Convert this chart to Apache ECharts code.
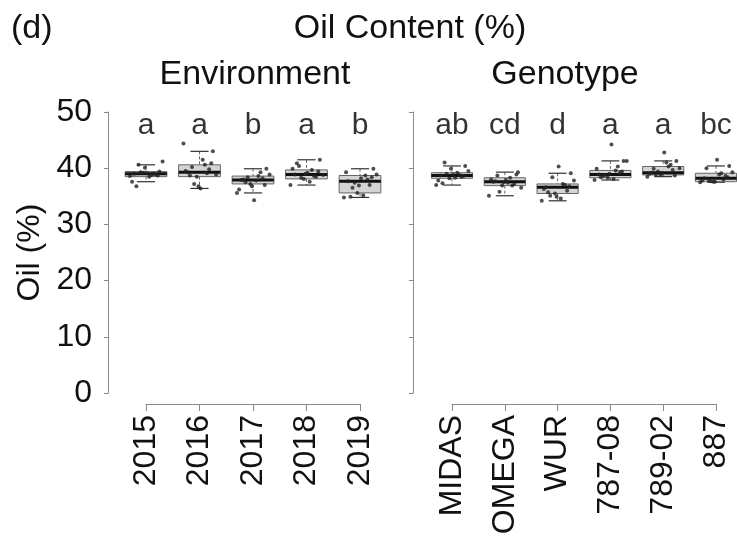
<!DOCTYPE html>
<html>
<head>
<meta charset="utf-8">
<script src="https://cdn.jsdelivr.net/npm/echarts@6/dist/echarts.min.js"></script>
<style>
html,body{margin:0;padding:0;background:#fff;}
#chart{width:737px;height:542px;}
</style>
</head>
<body>
<div id="chart"></div>
<script>
// ---- Data ----
const envCategories = ['2015', '2016', '2017', '2018', '2019'];
const genoCategories = ['MIDAS', 'OMEGA', 'WUR', '787-08', '789-02', '887'];
const yTicks = [0, 10, 20, 30, 40, 50];

// box statistics: lower whisker, Q1, median, Q3, upper whisker
const envLow  = [37.6, 36.4, 35.6, 37.0, 34.8];
const envQ1   = [38.5, 38.5, 37.2, 38.1, 35.6];
const envMed  = [39.0, 39.3, 37.9, 38.9, 37.7];
const envQ3   = [39.4, 40.6, 38.6, 39.7, 38.7];
const envHigh = [40.6, 43.0, 39.9, 41.5, 39.9];

const genoLow  = [37.0, 35.1, 34.2, 37.9, 38.5, 37.5];
const genoQ1   = [38.2, 36.9, 35.5, 38.3, 38.8, 37.6];
const genoMed  = [38.7, 37.6, 36.6, 38.9, 39.2, 38.2];
const genoQ3   = [39.2, 38.3, 37.2, 39.6, 40.3, 39.1];
const genoHigh = [40.4, 39.3, 39.1, 41.3, 41.3, 40.4];

// individual observations per group
const env2015 = [39.0, 38.8, 39.2, 39.4, 38.6, 39.1, 38.9, 40.6, 41.2, 37.6, 38.5, 39.3, 38.7, 36.8, 39.0, 40.1];
const env2016 = [39.3, 40.6, 38.5, 43.0, 44.4, 36.4, 39.8, 40.2, 38.9, 39.5, 41.5, 37.2, 40.9, 38.7, 39.1, 36.8];
const env2017 = [37.9, 38.6, 37.2, 39.9, 35.6, 34.3, 38.2, 37.5, 38.9, 36.2, 37.8, 38.4, 37.0, 38.0, 39.3, 36.8];
const env2018 = [38.9, 39.7, 38.1, 41.5, 37.0, 39.2, 38.5, 40.4, 38.8, 39.9, 37.6, 38.3, 39.4, 40.9, 38.6, 39.0];
const env2019 = [37.7, 38.7, 35.6, 39.9, 34.8, 38.2, 37.0, 36.5, 38.9, 39.3, 35.2, 37.4, 38.4, 34.9, 38.0, 36.9];
const genoMIDAS = [38.7, 39.2, 38.2, 40.4, 37.0, 38.9, 38.5, 41.0, 39.5, 37.8, 38.3, 39.0, 38.6, 37.3, 38.8, 39.9];
const genoOMEGA = [37.6, 38.3, 36.9, 39.3, 35.1, 37.9, 37.2, 38.7, 36.5, 38.0, 37.4, 35.8, 38.9, 37.7, 36.9, 37.5];
const genoWUR   = [36.6, 37.2, 35.5, 39.1, 34.2, 40.3, 36.0, 35.1, 37.8, 36.3, 34.6, 38.4, 36.8, 35.7, 37.0, 34.9];
const geno78708 = [38.9, 39.6, 38.3, 41.3, 37.9, 44.2, 39.2, 38.6, 41.3, 39.9, 38.1, 38.8, 39.4, 38.4, 40.3, 39.0];
const geno78902 = [39.2, 40.3, 38.8, 41.3, 38.5, 42.8, 39.7, 38.9, 40.0, 39.0, 41.0, 39.4, 38.7, 39.9, 40.6, 39.1];
const geno887   = [38.2, 39.1, 37.6, 40.4, 37.5, 41.5, 38.6, 37.9, 39.3, 37.8, 38.9, 37.7, 38.4, 40.0, 38.0, 37.6];

const envLetters  = ['a', 'a', 'b', 'a', 'b'];
const genoLetters = ['ab', 'cd', 'd', 'a', 'a', 'bc'];

// horizontal jitter (fraction of a category step) used for the points
const jitterOffsets = [-0.22, 0.10, -0.05, 0.25, -0.30, 0.02, 0.18, -0.14, 0.31, -0.26, 0.06, -0.10, 0.22, -0.18, 0.14, -0.02];
const letterLevel = 47.6;

// ---- Build ----
const FONT = "'Liberation Sans', Arial, sans-serif";
const envPoints = [env2015, env2016, env2017, env2018, env2019];
const genoPoints = [genoMIDAS, genoOMEGA, genoWUR, geno78708, geno78902, geno887];

function boxData(lo, q1, md, q3, hi) {
  return lo.map((v, i) => [i, lo[i], q1[i], md[i], q3[i], hi[i]]);
}
function pointData(groups) {
  const out = [];
  groups.forEach((g, i) => g.forEach((v, k) => out.push([i + jitterOffsets[k % jitterOffsets.length], v])));
  return out;
}
function letterData(letters) {
  return letters.map((l, i) => ({ value: [i, letterLevel], name: l }));
}

function renderBox(params, api) {
  const x = api.value(0);
  const lo = api.coord([x, api.value(1)]);
  const q1 = api.coord([x, api.value(2)]);
  const md = api.coord([x, api.value(3)]);
  const q3 = api.coord([x, api.value(4)]);
  const hi = api.coord([x, api.value(5)]);
  const unit = api.size([1, 0])[0];
  const hw = unit * 0.39;
  const sw = unit * 0.17;
  const cx = md[0];
  return {
    type: 'group',
    children: [
      { type: 'line', shape: { x1: cx, y1: hi[1], x2: cx, y2: q3[1] }, style: { stroke: '#666', lineWidth: 1, lineDash: [3, 2] } },
      { type: 'line', shape: { x1: cx, y1: q1[1], x2: cx, y2: lo[1] }, style: { stroke: '#666', lineWidth: 1, lineDash: [3, 2] } },
      { type: 'line', shape: { x1: cx - sw, y1: hi[1], x2: cx + sw, y2: hi[1] }, style: { stroke: '#333', lineWidth: 1.2 } },
      { type: 'line', shape: { x1: cx - sw, y1: lo[1], x2: cx + sw, y2: lo[1] }, style: { stroke: '#333', lineWidth: 1.2 } },
      { type: 'rect', shape: { x: cx - hw, y: q3[1], width: hw * 2, height: q1[1] - q3[1] }, style: { fill: '#d4d4d4', stroke: '#666', lineWidth: 1 } },
      { type: 'line', shape: { x1: cx - hw, y1: md[1], x2: cx + hw, y2: md[1] }, style: { stroke: '#111', lineWidth: 3 } }
    ]
  };
}

const axisLine = { show: true, onZero: false, lineStyle: { color: '#888', width: 1 } };
const grids = [
  { left: 146, width: 214, top: 112, height: 281 },
  { left: 452, width: 264, top: 112, height: 281 }
];

function catAxis(gridIndex, data) {
  return {
    type: 'category', gridIndex, data, boundaryGap: false, offset: 11,
    axisLine, axisTick: { show: true, length: 7, alignWithLabel: true, lineStyle: { color: '#888' } },
    axisLabel: { rotate: 90, margin: 11, fontSize: 32, color: '#111', fontFamily: FONT },
    splitLine: { show: false }
  };
}
function valXAxis(gridIndex, n) {
  return { type: 'value', gridIndex, min: 0, max: n - 1, show: false, axisLine: { onZero: false }, splitLine: { show: false } };
}
function yAx(gridIndex, labels) {
  return {
    type: 'value', gridIndex, min: yTicks[0], max: yTicks[yTicks.length - 1], interval: yTicks[1] - yTicks[0],
    offset: gridIndex === 0 ? 38 : 39,
    axisLine, axisTick: { show: true, length: 4, lineStyle: { color: '#888' } },
    axisLabel: { show: labels, margin: 16, fontSize: 32, color: '#111', fontFamily: FONT },
    splitLine: { show: false },
    name: labels ? 'Oil (%)' : '', nameLocation: 'middle', nameGap: 62,
    nameTextStyle: { fontSize: 32, color: '#111', fontFamily: FONT }
  };
}

const titleStyle = { fontSize: 34, fontWeight: 'normal', color: '#111', fontFamily: FONT };
const option = {
  backgroundColor: '#fff',
  animation: false,
  title: [
    { text: '(d)', left: 6, top: 7, textStyle: titleStyle },
    { text: 'Oil Content (%)', left: 405, top: 7, textAlign: 'center', textStyle: titleStyle },
    { text: 'Environment', left: 250, top: 53, textAlign: 'center', textStyle: titleStyle },
    { text: 'Genotype', left: 560, top: 53, textAlign: 'center', textStyle: titleStyle }
  ],
  grid: grids,
  xAxis: [catAxis(0, envCategories), catAxis(1, genoCategories), valXAxis(0, envCategories.length), valXAxis(1, genoCategories.length)],
  yAxis: [yAx(0, true), yAx(1, false)],
  series: [
    { type: 'custom', xAxisIndex: 2, yAxisIndex: 0, renderItem: renderBox, clip: false, z: 2,
      encode: { x: 0, y: [1, 2, 3, 4, 5] }, data: boxData(envLow, envQ1, envMed, envQ3, envHigh) },
    { type: 'custom', xAxisIndex: 3, yAxisIndex: 1, renderItem: renderBox, clip: false, z: 2,
      encode: { x: 0, y: [1, 2, 3, 4, 5] }, data: boxData(genoLow, genoQ1, genoMed, genoQ3, genoHigh) },
    { type: 'scatter', xAxisIndex: 2, yAxisIndex: 0, symbolSize: 4, z: 3, clip: false,
      itemStyle: { color: '#222', opacity: 0.8 }, data: pointData(envPoints) },
    { type: 'scatter', xAxisIndex: 3, yAxisIndex: 1, symbolSize: 4, z: 3, clip: false,
      itemStyle: { color: '#222', opacity: 0.8 }, data: pointData(genoPoints) },
    { type: 'scatter', xAxisIndex: 2, yAxisIndex: 0, symbolSize: 0, z: 4, clip: false,
      label: { show: true, position: 'inside', formatter: p => p.name, fontSize: 30, color: '#000', fontFamily: FONT },
      data: letterData(envLetters) },
    { type: 'scatter', xAxisIndex: 3, yAxisIndex: 1, symbolSize: 0, z: 4, clip: false,
      label: { show: true, position: 'inside', formatter: p => p.name, fontSize: 30, color: '#000', fontFamily: FONT },
      data: letterData(genoLetters) }
  ]
};

const chart = echarts.init(document.getElementById('chart'), null, { renderer: 'canvas' });
chart.setOption(option);
</script>
</body>
</html>
